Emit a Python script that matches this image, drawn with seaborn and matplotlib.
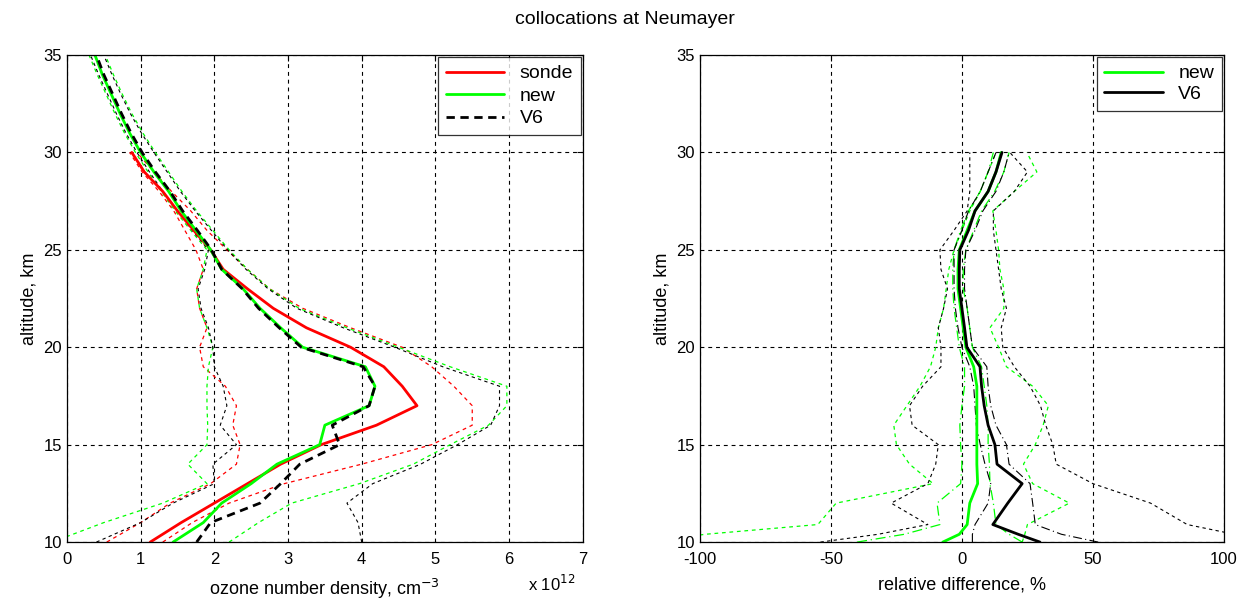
import numpy as np
import pandas as pd
import matplotlib
matplotlib.use('Agg')
import matplotlib.pyplot as plt
from matplotlib.lines import Line2D
import seaborn as sns

sns.set_style('white')
plt.rcParams['font.family'] = ['Liberation Sans', 'DejaVu Sans']
plt.rcParams['axes.unicode_minus'] = False
plt.rcParams['text.color'] = 'black'
plt.rcParams['axes.labelcolor'] = 'black'

# ---- left panel: ozone number density (x 1e12 cm-3) ----
alt = [10, 11, 12, 13, 14, 15, 16, 17, 18, 19, 20, 21, 22, 23, 24, 25,
       26, 27, 28, 29, 30, 31, 32, 33, 34, 35]
alt_sonde = alt[:21]

sonde_mean = [1.13, 1.55, 2.0, 2.45, 2.9, 3.45, 4.2, 4.75, 4.55, 4.3, 3.85, 3.25,
              2.8, 2.45, 2.12, 1.95, 1.72, 1.5, 1.3, 1.05, 0.88]
sonde_lo = [0.54, 1.0, 1.4, 1.95, 2.3, 2.35, 2.25, 2.3, 2.15, 1.85, 1.8, 1.9,
            1.8, 1.76, 1.85, 1.75, 1.6, 1.45, 1.25, 1.02, 0.85]
sonde_hi = [1.3, 1.7, 2.2, 2.95, 4.0, 4.95, 5.5, 5.5, 5.25, 4.95, 4.55, 3.85,
            3.2, 2.75, 2.45, 2.17, 1.9, 1.68, 1.42, 1.18, 0.95]

new_mean = [1.44, 1.85, 2.1, 2.5, 2.85, 3.43, 3.5, 4.1, 4.18, 4.05, 3.2, 2.9,
            2.62, 2.39, 2.1, 1.95, 1.75, 1.55, 1.38, 1.18, 1.0, 0.85, 0.72,
            0.6, 0.48, 0.38]
new_lo = [-0.2, 0.5, 1.3, 1.9, 1.64, 1.9, 1.91, 1.9, 1.9, 1.92, 1.98, 1.9,
          1.8, 1.76, 1.85, 1.9, 1.68, 1.47, 1.28, 1.1, 0.93, 0.78, 0.65,
          0.53, 0.41, 0.3]
new_hi = [2.2, 2.6, 3.05, 3.97, 4.7, 5.2, 5.72, 5.97, 5.97, 5.2, 4.5, 3.8,
          3.15, 2.75, 2.45, 2.2, 1.98, 1.76, 1.56, 1.38, 1.2, 1.03, 0.88,
          0.75, 0.63, 0.52]

v6_mean = [1.76, 1.95, 2.62, 2.9, 3.16, 3.7, 3.6, 4.1, 4.18, 4.02, 3.18, 2.88,
           2.6, 2.38, 2.1, 1.96, 1.77, 1.57, 1.4, 1.2, 1.02, 0.87, 0.74,
           0.62, 0.5, 0.4]
v6_lo = [0.4, 1.0, 1.44, 2.0, 1.98, 2.3, 2.08, 2.17, 2.12, 2.0, 1.98, 1.92,
         1.82, 1.78, 1.87, 1.92, 1.7, 1.5, 1.3, 1.12, 0.95, 0.8, 0.67,
         0.55, 0.43, 0.32]
v6_hi = [4.0, 3.95, 3.8, 4.15, 4.8, 5.3, 5.75, 5.87, 5.87, 5.1, 4.45, 3.75,
         3.12, 2.73, 2.43, 2.18, 1.96, 1.74, 1.54, 1.36, 1.18, 1.01, 0.86,
         0.73, 0.61, 0.5]

# ---- right panel: relative difference, % ----
alt_r = [10, 10.4, 10.9, 12, 13, 14, 15, 16, 17, 18, 19, 20, 21, 22, 23, 24,
         25, 26, 27, 28, 29, 30]

rd_new = [-7.3, -1, 2.0, 3.0, 6.0, 5.7, 5.7, 5.7, 5.7, 5.7, 4.5, 1.5, 0.5,
          -0.5, -1.5, -1.5, -1, 2, 5, 10, 13, 15]
rd_new_lo = [-40, -22, -8.4, -9.5, -0.5, 0, -0.5, -0.8, 0, 1, 1, -1, -2,
             -3, -3.5, -3.5, -3, -0.5, 2.5, 7, 10, 12]
rd_new_hi = [23, 18, 13, 12, 10.7, 10.5, 10, 10, 9.5, 8.5, 7.5, 4, 3, 2,
             0.5, 0.5, 1.5, 4.5, 7.5, 12.5, 16, 18]
rd_new_sd_lo = [-120, -98, -55, -48, -11, -20, -25, -26, -21, -16, -12, -10,
                -9, -7, -6, -5, -3, 0, 3, 7, 10, 13]
rd_new_sd_hi = [23, 24, 25, 41, 27, 23.5, 28, 31, 33, 27, 17, 14, 10.7, 16,
                16, 14.5, 14, 13, 11.8, 20, 28.6, 24.8]

rd_v6 = [29.8, 21.5, 11.8, 17.5, 23, 13.4, 12.6, 10, 8.5, 7.5, 6.9, 1.9, 1,
         0, -1, -1, -0.8, 2.5, 5, 10, 13, 15.3]
rd_v6_lo = [4, 4, 5, 10, 11, 8.8, 7, 5.5, 5, 4.5, 3, 0, -1.5, -2.5, -3, -3,
            -3, 0, 2.5, 7, 10, 13]
rd_v6_hi = [52, 38, 28, 27, 26, 18, 17, 13, 11, 10, 9.5, 4, 3, 2, 1, 1,
            1.5, 5, 8, 13, 16, 18]
rd_v6_sd_lo = [-54, -32, -13, -27, -13, -10, -9, -19, -20, -15, -8, -8, -9,
               -7, -5.5, -8, -8.4, -3, 2, 3, 3, 3]
rd_v6_sd_hi = [110, 104, 86, 72, 50, 36, 34.7, 32, 30, 26, 20, 15.6, 15, 17,
               15, 14, 13, 12, 12, 20, 25, 18.3]

RED = '#ff0000'
GREEN = '#00ff00'
BLACK = '#000000'
grid_ls = (0, (3.5, 3.5))

fig = plt.figure(figsize=(12.49, 6.05), dpi=100)
ax1 = fig.add_axes([0.0536, 0.104, 0.413, 0.805])
ax2 = fig.add_axes([0.5604, 0.104, 0.4195, 0.805])


def draw(ax, x, y, color, lw, ls):
    sns.lineplot(x=x, y=y, ax=ax, color=color, lw=lw, linestyle=ls,
                 sort=False, estimator=None, orient='y', legend=False)


# left panel
draw(ax1, sonde_lo, alt_sonde, RED, 0.9, (0, (3, 3)))
draw(ax1, sonde_hi, alt_sonde, RED, 0.9, (0, (3, 3)))
draw(ax1, new_lo, alt, GREEN, 0.9, (0, (3, 3)))
draw(ax1, new_hi, alt, GREEN, 0.9, (0, (3, 3)))
draw(ax1, v6_lo, alt, BLACK, 0.8, (0, (3, 3)))
draw(ax1, v6_hi, alt, BLACK, 0.8, (0, (3, 3)))
draw(ax1, sonde_mean, alt_sonde, RED, 2.0, '-')
draw(ax1, new_mean, alt, GREEN, 2.0, '-')
draw(ax1, v6_mean, alt, BLACK, 2.0, (0, (3, 2)))

# right panel
draw(ax2, rd_new_sd_lo, alt_r, GREEN, 0.9, (0, (3, 3)))
draw(ax2, rd_new_sd_hi, alt_r, GREEN, 0.9, (0, (3, 3)))
draw(ax2, rd_v6_sd_lo, alt_r, BLACK, 0.8, (0, (3, 3)))
draw(ax2, rd_v6_sd_hi, alt_r, BLACK, 0.8, (0, (3, 3)))
draw(ax2, rd_new_lo, alt_r, GREEN, 0.9, (0, (8, 3, 1, 3)))
draw(ax2, rd_new_hi, alt_r, GREEN, 0.9, (0, (8, 3, 1, 3)))
draw(ax2, rd_v6_lo, alt_r, BLACK, 0.8, (0, (8, 3, 1, 3)))
draw(ax2, rd_v6_hi, alt_r, BLACK, 0.8, (0, (8, 3, 1, 3)))
draw(ax2, rd_new, alt_r, GREEN, 2.0, '-')
draw(ax2, rd_v6, alt_r, BLACK, 2.0, '-')

for ax in (ax1, ax2):
    ax.set_ylim(10, 35)
    ax.set_yticks([10, 15, 20, 25, 30, 35])
    ax.grid(True, color='black', linestyle=grid_ls, linewidth=0.8)
    ax.tick_params(direction='in', top=True, right=True, labelsize=12,
                   length=4, width=0.8, colors='black')
    ax.tick_params(axis='x', pad=7)
    for s in ax.spines.values():
        s.set_color('black')
        s.set_linewidth(0.9)
    ax.set_ylabel('altitude, km', fontsize=13, labelpad=4)
    ax.set_axisbelow(True)

ax1.set_xlim(0, 7)
ax1.set_xticks(range(0, 8))
ax1.set_xlabel('ozone number density, cm$^{-3}$', fontsize=13, labelpad=7)
ax1.text(0.985, -0.065, r'x 10$^{12}$', transform=ax1.transAxes, ha='right',
         va='top', fontsize=12)

ax2.set_xlim(-100, 100)
ax2.set_xticks([-100, -50, 0, 50, 100])
ax2.set_xlabel('relative difference, %', fontsize=13, labelpad=7)

# legends
h1 = [Line2D([], [], color=RED, lw=2), Line2D([], [], color=GREEN, lw=2),
      Line2D([], [], color=BLACK, lw=2, linestyle=(0, (3, 2)))]
leg1 = ax1.legend(h1, ['sonde', 'new', 'V6'], loc='upper right', fontsize=14,
                  frameon=True, fancybox=False, edgecolor='black',
                  borderaxespad=0.1, handlelength=3.0, labelspacing=0.25,
                  borderpad=0.4)
leg1.get_frame().set_linewidth(0.9)
h2 = [Line2D([], [], color=GREEN, lw=2), Line2D([], [], color=BLACK, lw=2)]
leg2 = ax2.legend(h2, ['new', 'V6'], loc='upper right', fontsize=14,
                  frameon=True, fancybox=False, edgecolor='black',
                  borderaxespad=0.1, handlelength=3.0, labelspacing=0.15,
                  borderpad=0.4)
leg2.get_frame().set_linewidth(0.9)

fig.text(0.5, 0.968, 'collocations at Neumayer', ha='center', va='center',
         fontsize=14)

fig.savefig('out.png', dpi=100, facecolor='white')
